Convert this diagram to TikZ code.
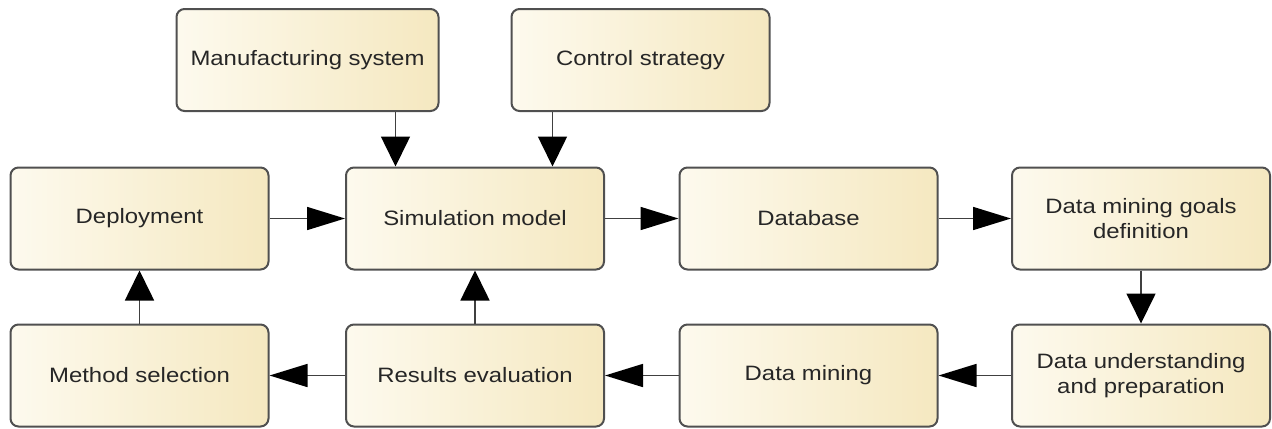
\documentclass[tikz,border=0pt]{standalone}
\usepackage{fontspec}
\newfontfamily\boxfont{Liberation Sans}[FakeStretch=1.15]
\usetikzlibrary{arrows.meta}

\definecolor{boxleft}{HTML}{FDFAEE}
\definecolor{boxmid}{HTML}{FBF4E0}
\definecolor{boxright}{HTML}{F5E8C0}
\definecolor{boxline}{HTML}{505050}
\definecolor{flowline}{HTML}{404040}

\tikzset{
  stage/.style={draw=boxline, line width=1pt, rounded corners=4pt,
    left color=boxleft, middle color=boxmid, right color=boxright,
    minimum width=129pt, minimum height=51pt, align=center,
    text=black!85, font=\boxfont\fontsize{10.4}{12.5}\selectfont},
  flow/.style={draw=flowline, line width=0.8pt,
    -{Triangle[length=19pt,width=11.5pt,color=black]}},
  vflow/.style={draw=flowline, line width=0.8pt,
    -{Triangle[length=15pt,width=14.5pt,color=black]}}
}

\begin{document}
\begin{tikzpicture}[x=0.5pt, y=-0.5pt]
        \useasboundingbox (0,0) rectangle (1272,428);

        % Inputs
        \node[stage, minimum width=131pt] (manuf) at (307.5,60) {Manufacturing system};
        \node[stage] (control) at (640.5,60) {Control strategy};

        % Upper row
        \node[stage] (deploy) at (139.5,218.5) {Deployment};
        \node[stage] (sim) at (475,218.5) {Simulation model};
        \node[stage] (db) at (808.5,218.5) {Database};
        \node[stage] (goals) at (1141,218.5) {Data mining goals\\definition};

        % Lower row
        \node[stage] (method) at (139.5,375.5) {Method selection};
        \node[stage] (results) at (475,375.5) {Results evaluation};
        \node[stage] (mining) at (808.5,375.5) {Data mining};
        \node[stage] (prep) at (1141,375.5) {Data understanding\\and preparation};

        % Inputs into the model
        \draw[vflow] ([xshift=44pt]manuf.south) -- ([xshift=44pt]manuf.south |- sim.north);
        \draw[vflow] ([xshift=-44pt]control.south) -- ([xshift=-44pt]control.south |- sim.north);

        % Main loop
        \draw[flow] (deploy) -- (sim);
        \draw[flow] (sim) -- (db);
        \draw[flow] (db) -- (goals);
        \draw[vflow] (goals) -- (prep);
        \draw[flow] (prep) -- (mining);
        \draw[flow] (mining) -- (results);
        \draw[flow] (results) -- (method);
        \draw[vflow] (results) -- (sim);
        \draw[vflow] (method) -- (deploy);
    \end{tikzpicture}
\end{document}
